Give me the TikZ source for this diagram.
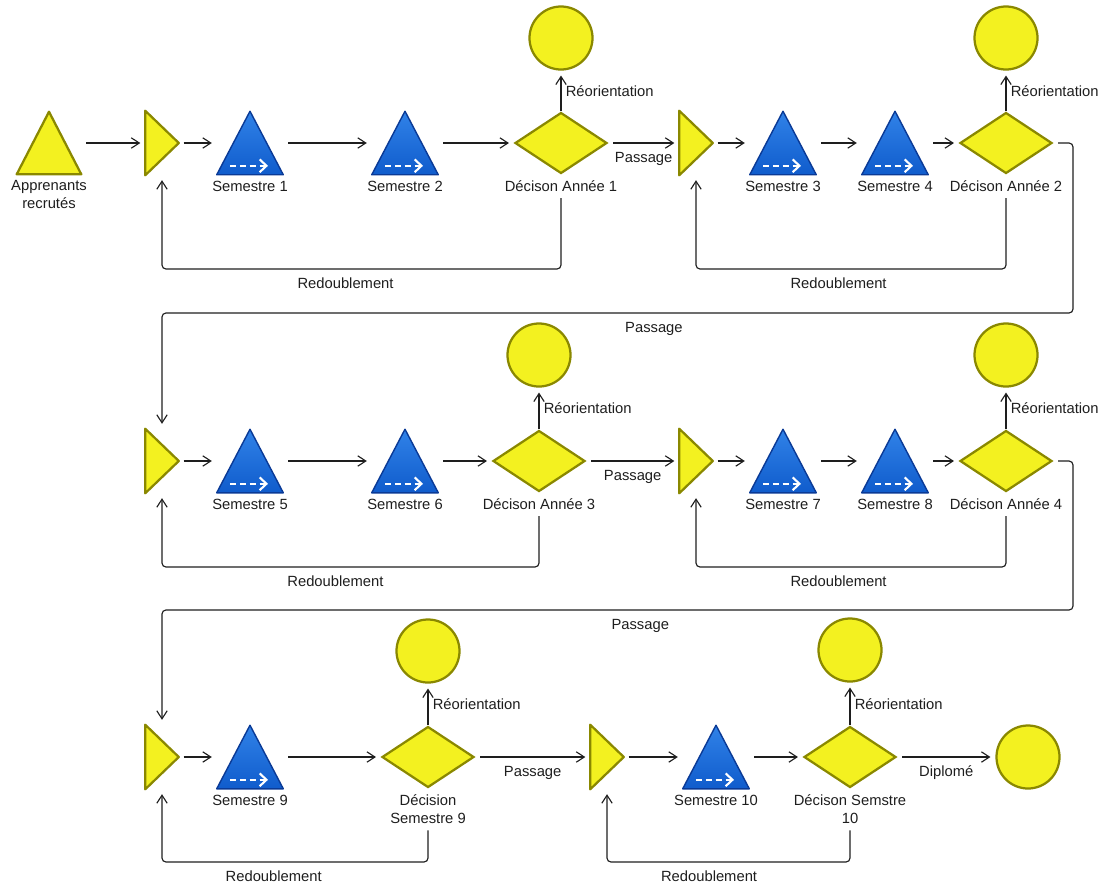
\documentclass[tikz,border=0pt]{standalone}
\usepackage{fontspec}
\setmainfont{Liberation Sans}
\usepackage{xcolor}
\usepackage{tikz}
\usetikzlibrary{arrows.meta, positioning, shapes.geometric}

\definecolor{jaune}{RGB}{243,241,32}
\definecolor{bordjaune}{RGB}{138,136,0}
\definecolor{bleu}{RGB}{16,92,204}
\definecolor{bleuclair}{RGB}{48,130,232}
\definecolor{bleufonce}{RGB}{10,58,150}
\definecolor{trait}{RGB}{30,30,30}
\newcommand{\diagfont}{\fontsize{10.5pt}{13pt}\selectfont}

\begin{document}
\begin{tikzpicture}[
    x=0.025cm, y=-0.025cm,
    label distance=3pt,
    semestre/.style={minimum width=1.65cm, minimum height=1.575cm, inner sep=0pt},
    entree/.style={minimum width=0.825cm, minimum height=1.6cm, inner sep=0pt},
    debut/.style={minimum width=1.6cm, minimum height=1.55cm, inner sep=0pt},
    decision/.style={diamond, draw=bordjaune, fill=jaune, line width=1.6pt,
                     minimum width=2.3cm, minimum height=1.525cm, inner sep=0pt},
    sortie/.style={circle, draw=bordjaune, fill=jaune, line width=1.6pt,
                   minimum size=1.575cm, inner sep=0pt},
    titre/.style={font=\diagfont, align=center, inner sep=1pt, text=trait},
    jauneforme/.style={fill=jaune, draw=bordjaune, line width=1.6pt, line join=round},
    tribleu/.style={draw=bleufonce, top color=bleuclair, bottom color=bleu,
                    line width=1pt, line join=round},
    tiret/.style={white, line width=1.5pt, dash pattern=on 4.5pt off 2.5pt,
                  -{Straight Barb[length=1.7mm, width=3.2mm]}},
    fleche/.style={-{Straight Barb[length=2mm, width=2.6mm]}, line width=0.8pt, trait,
                   shorten <=3.5pt, shorten >=3.5pt, rounded corners=2.8pt},
    elab/.style={below=4pt, inner sep=2pt, font=\diagfont},
    reo/.style={right, inner sep=3pt, font=\diagfont},
]
    \useasboundingbox (0,0) rectangle (1106,883);

    % niveaux des retours
    \coordinate (bas1) at (0,269);
    \coordinate (bas2) at (0,567);
    \coordinate (bas3) at (0,862);
    \coordinate (haut2) at (1073,313);
    \coordinate (haut3) at (1073,610);

    % annee 1 et 2
    \node[debut, label={[titre]below:Apprenants\\recrutés}] (appr) at (49,143) {};
    \node[entree] (ent1) at (162,143) {};
    \node[semestre, label={[titre]below:Semestre 1}] (sem1) at (250,143) {};
    \node[semestre, label={[titre]below:Semestre 2}] (sem2) at (405,143) {};
    \node[decision, label={[titre, name=dec1l]below:Décison Année 1}] (dec1) at (561,143) {};
    \node[sortie] (reo1) at (561,38) {};
    \node[entree] (ent2) at (696,143) {};
    \node[semestre, label={[titre]below:Semestre 3}] (sem3) at (783,143) {};
    \node[semestre, label={[titre]below:Semestre 4}] (sem4) at (895,143) {};
    \node[decision, label={[titre, name=dec2l]below:Décison Année 2}] (dec2) at (1006,143) {};
    \node[sortie] (reo2) at (1006,38) {};

    % annee 3 et 4
    \node[entree] (ent3) at (162,461) {};
    \node[semestre, label={[titre]below:Semestre 5}] (sem5) at (250,461) {};
    \node[semestre, label={[titre]below:Semestre 6}] (sem6) at (405,461) {};
    \node[decision, label={[titre, name=dec3l]below:Décison Année 3}] (dec3) at (539,461) {};
    \node[sortie] (reo3) at (539,355) {};
    \node[entree] (ent4) at (696,461) {};
    \node[semestre, label={[titre]below:Semestre 7}] (sem7) at (783,461) {};
    \node[semestre, label={[titre]below:Semestre 8}] (sem8) at (895,461) {};
    \node[decision, label={[titre, name=dec4l]below:Décison Année 4}] (dec4) at (1006,461) {};
    \node[sortie] (reo4) at (1006,355) {};

    % annee 5
    \node[entree] (ent5) at (162,757) {};
    \node[semestre, label={[titre]below:Semestre 9}] (sem9) at (250,757) {};
    \node[decision, label={[titre, name=dec5l]below:Décision\\Semestre 9}] (dec5) at (428,757) {};
    \node[sortie] (reo5) at (428,651) {};
    \node[entree] (ent6) at (607,757) {};
    \node[semestre, label={[titre]below:Semestre 10}] (sem10) at (716,757) {};
    \node[decision, label={[titre, name=dec6l]below:Décison Semstre\\10}] (dec6) at (850,757) {};
    \node[sortie] (reo6) at (850,650) {};
    \node[sortie] (dipl) at (1028,757) {};

    % formes
    \draw[jauneforme] (appr.south west) -- (appr.north) -- (appr.south east) -- cycle;
    \foreach \i in {1,...,6}
        \draw[jauneforme] (ent\i.north west) -- (ent\i.east) -- (ent\i.south west) -- cycle;
    \foreach \i in {1,...,10}{
        \draw[tribleu] (sem\i.south west) -- (sem\i.north) -- (sem\i.south east) -- cycle;
        \draw[tiret] ([xshift=-0.5cm, yshift=0.225cm]sem\i.south)
            -- ([xshift=0.45cm, yshift=0.225cm]sem\i.south);
    }

    % liaisons rangee 1
    \draw[fleche] (appr) -- (ent1);
    \draw[fleche] (ent1) -- (sem1);
    \draw[fleche] (sem1) -- (sem2);
    \draw[fleche] (sem2) -- (dec1);
    \draw[fleche, shorten <=0pt] (dec1) -- node[reo]{Réorientation} (reo1);
    \draw[fleche] (dec1) -- node[elab]{Passage} (ent2);
    \draw[fleche] (ent2) -- (sem3);
    \draw[fleche] (sem3) -- (sem4);
    \draw[fleche] (sem4) -- (dec2);
    \draw[fleche, shorten <=0pt] (dec2) -- node[reo]{Réorientation} (reo2);
    \draw[fleche] (dec1l) -- (dec1l |- bas1) -| node[elab, pos=0.27]{Redoublement} (ent1);
    \draw[fleche] (dec2l) -- (dec2l |- bas1) -| node[elab, pos=0.27]{Redoublement} (ent2);
    \draw[fleche] (dec2) -| (haut2) -- node[elab, pos=0.46]{Passage} (haut2 -| ent3) -- (ent3);

    % liaisons rangee 2
    \draw[fleche] (ent3) -- (sem5);
    \draw[fleche] (sem5) -- (sem6);
    \draw[fleche] (sem6) -- (dec3);
    \draw[fleche, shorten <=0pt] (dec3) -- node[reo]{Réorientation} (reo3);
    \draw[fleche] (dec3) -- node[elab]{Passage} (ent4);
    \draw[fleche] (ent4) -- (sem7);
    \draw[fleche] (sem7) -- (sem8);
    \draw[fleche] (sem8) -- (dec4);
    \draw[fleche, shorten <=0pt] (dec4) -- node[reo]{Réorientation} (reo4);
    \draw[fleche] (dec3l) -- (dec3l |- bas2) -| node[elab, pos=0.27]{Redoublement} (ent3);
    \draw[fleche] (dec4l) -- (dec4l |- bas2) -| node[elab, pos=0.27]{Redoublement} (ent4);
    \draw[fleche] (dec4) -| (haut3) -- node[elab, pos=0.475]{Passage} (haut3 -| ent5) -- (ent5);

    % liaisons rangee 3
    \draw[fleche] (ent5) -- (sem9);
    \draw[fleche] (sem9) -- (dec5);
    \draw[fleche, shorten <=0pt] (dec5) -- node[reo]{Réorientation} (reo5);
    \draw[fleche] (dec5) -- node[elab]{Passage} (ent6);
    \draw[fleche] (ent6) -- (sem10);
    \draw[fleche] (sem10) -- (dec6);
    \draw[fleche, shorten <=0pt] (dec6) -- node[reo]{Réorientation} (reo6);
    \draw[fleche] (dec6) -- node[elab]{Diplomé} (dipl);
    \draw[fleche] (dec5l) -- (dec5l |- bas3) -| node[elab, pos=0.29]{Redoublement} (ent5);
    \draw[fleche] (dec6l) -- (dec6l |- bas3) -| node[elab, pos=0.29]{Redoublement} (ent6);
\end{tikzpicture}
\end{document}
